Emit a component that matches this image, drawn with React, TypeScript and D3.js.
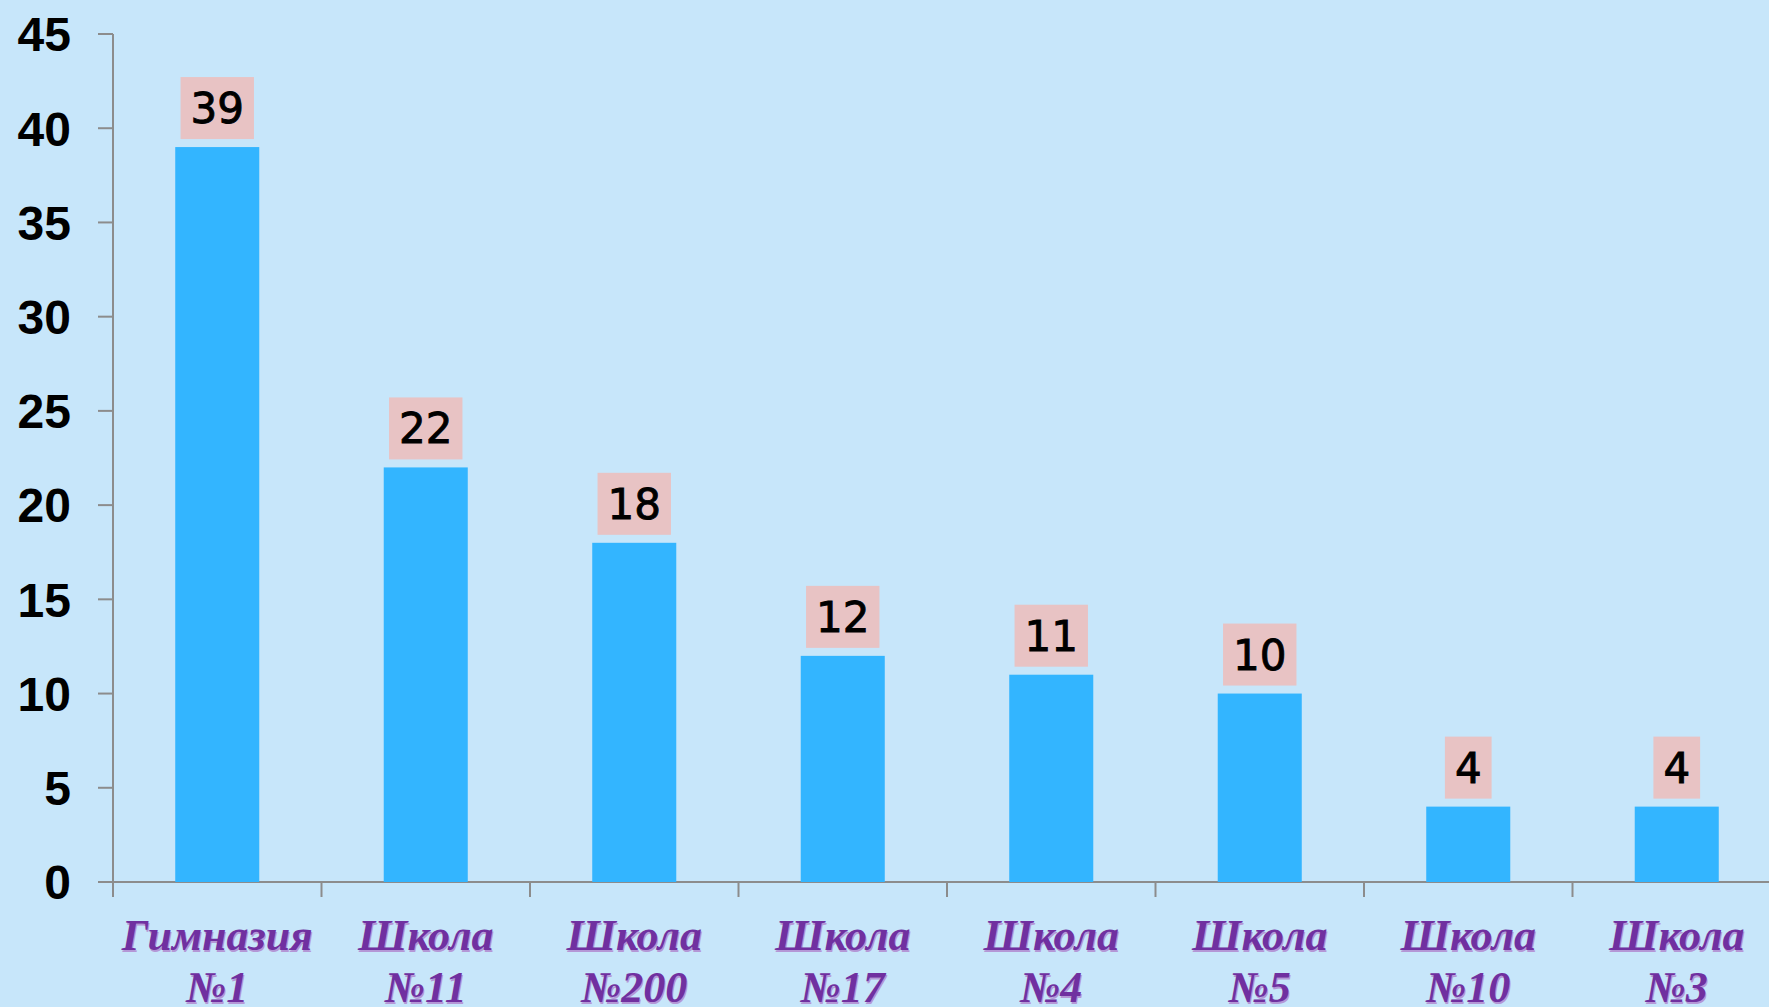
import React from "react";
import * as d3 from "d3";

const categories = ["Гимназия|№1", "Школа|№11", "Школа|№200", "Школа|№17", "Школа|№4", "Школа|№5", "Школа|№10", "Школа|№3"];
const values = [39, 22, 18, 12, 11, 10, 4, 4];
const yTicks = [0, 5, 10, 15, 20, 25, 30, 35, 40, 45];

const W = 1769;
const H = 1007;
const left = 113;
const step = 208.5;
const top = 34;
const bottom = 882;

export default function App() {
  const x = d3
    .scaleBand<string>()
    .domain(categories)
    .range([left, left + step * categories.length])
    .padding(0);
  const y = d3.scaleLinear().domain([0, 45]).range([bottom, top]);
  const barW = x.bandwidth() * 0.403;
  const bounds = d3.range(categories.length + 1).map((i) => left + i * x.step());

  return (
    <svg
      width={W}
      height={H}
      style={{ position: "absolute", left: 0, top: 0, background: "#C7E6FA" }}
    >
      <rect x={0} y={0} width={W} height={H} fill="#C7E6FA" />
      {/* y axis */}
      <line x1={left} x2={left} y1={top} y2={bottom + 15} stroke="#8C8C8C" strokeWidth={2} />
      {yTicks.map((t) => (
        <g key={t}>
          <line x1={left - 15} x2={left} y1={y(t)} y2={y(t)} stroke="#8C8C8C" strokeWidth={2} />
          <text
            x={71}
            y={y(t)}
            dy="0.36em"
            textAnchor="end"
            fontFamily="'Liberation Sans', Arial, sans-serif"
            fontWeight="bold"
            fontSize={48}
            fill="#000"
          >
            {t}
          </text>
        </g>
      ))}
      {/* x axis */}
      <line x1={left - 15} x2={W} y1={bottom} y2={bottom} stroke="#8C8C8C" strokeWidth={2} />
      {bounds.map((b, i) => (
        <line key={i} x1={b} x2={b} y1={bottom} y2={bottom + 15} stroke="#8C8C8C" strokeWidth={2} />
      ))}
      {/* bars */}
      {categories.map((c, i) => {
        const cx = (x(c) as number) + x.bandwidth() / 2;
        const v = values[i];
        const label = String(v);
        const bw = label.length * 26.7 + 20;
        const boxBottom = y(v) - 8;
        return (
          <g key={c}>
            <rect x={cx - barW / 2} y={y(v)} width={barW} height={y(0) - y(v)} fill="#33B5FF" />
            <rect x={cx - bw / 2} y={boxBottom - 62} width={bw} height={62} fill="#E8C3C4" />
            <text
              x={cx}
              y={boxBottom - 16}
              textAnchor="middle"
              fontFamily="'DejaVu Sans', sans-serif"
              fontSize={42}
              fill="#000"
              stroke="#000"
              strokeWidth={0.9}
            >
              {label}
            </text>
          </g>
        );
      })}
      {/* category labels */}
      {categories.map((c) => {
        const cx = (x(c) as number) + x.bandwidth() / 2;
        const lines = c.split("|");
        return (
          <g key={"l" + c}>
            {lines.map((ln, j) => (
              <g key={j}>
                <text
                  x={cx + 1}
                  y={950 + j * 52 + 2}
                  textAnchor="middle"
                  fontFamily="'Liberation Serif', 'Times New Roman', serif"
                  fontStyle="italic"
                  fontWeight="bold"
                  fontSize={44}
                  fill="#B497D6"
                >
                  {ln}
                </text>
                <text
                  x={cx}
                  y={950 + j * 52}
                  textAnchor="middle"
                  fontFamily="'Liberation Serif', 'Times New Roman', serif"
                  fontStyle="italic"
                  fontWeight="bold"
                  fontSize={44}
                  fill="#7030A0"
                >
                  {ln}
                </text>
              </g>
            ))}
          </g>
        );
      })}
    </svg>
  );
}
